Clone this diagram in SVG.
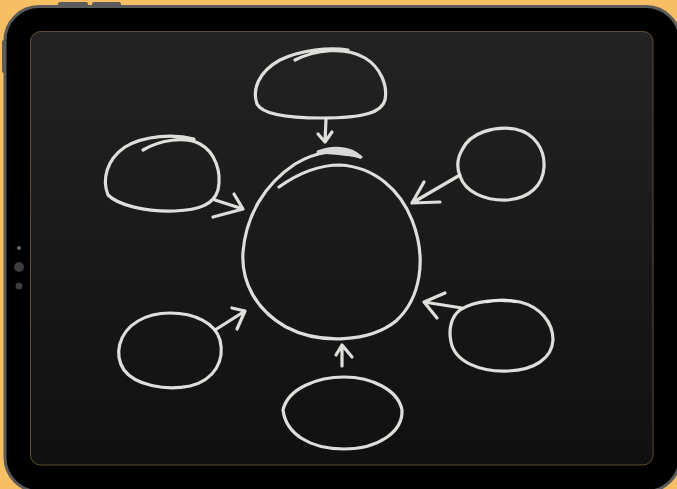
<svg xmlns="http://www.w3.org/2000/svg" width="677" height="489" viewBox="0 0 677 489">
  <defs>
    <linearGradient id="board" x1="0" y1="0" x2="0" y2="1">
      <stop offset="0" stop-color="#232323"/>
      <stop offset="1" stop-color="#101010"/>
    </linearGradient>
    <style>
      .chalk{fill:none;stroke:#e9e9e6;stroke-width:3.2;stroke-linecap:round;stroke-linejoin:round;opacity:0.95}
      .thin{stroke-width:2.4}
    </style>
  </defs>
  <rect x="0" y="0" width="677" height="489" fill="#f6bf64"/>
  <!-- tablet body -->
  <g id="tablet">
    <rect x="58" y="2" width="30" height="5" rx="2" fill="#5b5b5b"/>
    <rect x="92" y="2" width="29" height="5" rx="2" fill="#5b5b5b"/>
    <rect x="2" y="40" width="5" height="33" rx="2" fill="#5b5b5b"/>
    <rect x="5" y="6.5" width="675" height="485" rx="34" fill="#000" stroke="#5b5b5b" stroke-width="3"/>
    <rect x="30.5" y="31.5" width="622.5" height="433.5" rx="10" fill="url(#board)" stroke="#5e4e32" stroke-width="1"/>
    <circle cx="19" cy="248" r="2" fill="#666"/>
    <circle cx="19" cy="267" r="5" fill="#3c3c3c"/>
    <circle cx="19" cy="286" r="3.5" fill="#3c3c3c"/>
  </g>
  <!-- nodes -->
  <g id="center">
    <path class="chalk" d="M279,187 C300,172 320,165 340,165 C375,167 400,190 412,220 C427,258 421,298 396,321 C370,342 320,345 286,327 C256,310 241,282 243,252 C246,215 265,184 295,164 C315,152 340,147 360,157"/>
    <path d="M318,152 C332,146 350,147 361,157 C350,154 335,153 318,152 Z" fill="#d8d8d8" stroke="#d8d8d8" stroke-width="3" stroke-linejoin="round"/>
  </g>
  <g id="node-top">
    <path class="chalk" d="M295,60 C315,50 345,46 365,58 C380,67 388,85 385,100 C382,112 365,118 322,118 C285,118 262,114 257,104 C252,90 258,72 280,60 C300,50 330,47 348,50"/>
  </g>
  <g id="node-top-left">
    <path class="chalk" d="M143,150 C160,140 185,136 200,144 C215,152 222,172 218,190 C214,204 200,210 175,211 C145,212 118,205 108,195 C102,180 106,160 125,147 C145,135 175,134 194,139"/>
  </g>
  <g id="node-top-right">
    <path class="chalk" d="M462,150 C470,132 495,126 515,129 C535,133 545,150 544,167 C543,185 530,198 508,200 C485,201 465,192 460,176 C456,166 458,157 462,150 Z"/>
  </g>
  <g id="node-bottom-left">
    <path class="chalk" d="M170,313 C195,313 215,323 220,340 C225,360 215,380 190,386 C165,391 135,385 124,370 C114,355 118,333 138,321 C148,315 160,313 170,313 Z"/>
  </g>
  <g id="node-bottom">
    <path class="chalk" d="M283,410 C288,388 318,377 344,377 C372,377 398,390 402,410 C403,432 378,449 344,449 C310,449 286,434 283,410 Z"/>
  </g>
  <g id="node-bottom-right">
    <path class="chalk" d="M460,310 C475,300 500,299 520,302 C540,307 553,322 553,340 C552,358 535,370 508,371 C480,372 455,362 451,342 C448,328 452,316 460,310 Z"/>
    <path class="chalk thin" d="M487,302 C498,299 508,299 515,302"/>
  </g>
  <!-- connectors -->
  <g id="connectors">
    <path class="chalk" d="M326,119 L325,142 M318,134 L325,142 L332,132"/>
    <path class="chalk" d="M215,200 L243,209 L213,217 M234,194 L243,209"/>
    <path class="chalk" d="M460,175 L412,203 L440,202 M424,182 L412,203"/>
    <path class="chalk" d="M462,308 L424,302 M445,293 L424,302 L437,318"/>
    <path class="chalk" d="M342,366 L342,345 M336,355 L342,345 L352,357"/>
    <path class="chalk" d="M215,330 L245,311 M232,308 L245,311 L237,329"/>
  </g>
</svg>
